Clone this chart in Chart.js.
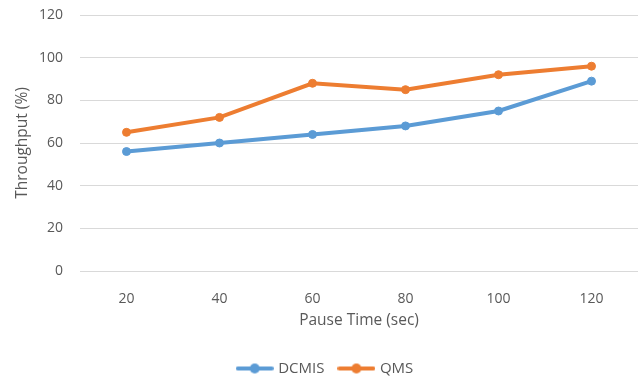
<!DOCTYPE html>
<html>
<head>
<meta charset="utf-8">
<script src="https://cdn.jsdelivr.net/npm/chart.js@4"></script>
<style>
  html, body { margin: 0; padding: 0; background: #fff; }
  #wrap { width: 643px; height: 379px; }
</style>
</head>
<body>
<div id="wrap"><canvas id="chart"></canvas></div>
<script>
const pauseTimes = ['20', '40', '60', '80', '100', '120'];
const dcmis = [56, 60, 64, 68, 75, 89];
const qms = [65, 72, 88, 85, 92, 96];
const seriesNames = ['DCMIS', 'QMS'];
const seriesColors = ['#5b9bd5', '#ed7d31'];

// legend marker: short line with a dot, like the office-style legend
function legendMarker(color) {
    let c = document.createElement('canvas');
    c.width = 38;
    c.height = 12;
    let ctx = c.getContext('2d');
    ctx.strokeStyle = color;
    ctx.lineWidth = 4;
    ctx.lineCap = 'round';
    ctx.beginPath();
    ctx.moveTo(2, 6);
    ctx.lineTo(36, 6);
    ctx.stroke();
    ctx.fillStyle = color;
    ctx.beginPath();
    ctx.arc(19, 6, 5, 0, Math.PI * 2);
    ctx.fill();
    return c;
}

const fontFamily = "'Open Sans', 'Liberation Sans', sans-serif";
const gray = '#595959';

new Chart(document.getElementById('chart'), {
    type: 'line',
    data: {
        labels: pauseTimes,
        datasets: [
            {
                label: seriesNames[0],
                data: dcmis,
                borderColor: seriesColors[0],
                backgroundColor: seriesColors[0],
                borderWidth: 4,
                pointRadius: 4,
                pointBorderWidth: 1,
                pointHoverRadius: 4,
                tension: 0
            },
            {
                label: seriesNames[1],
                data: qms,
                borderColor: seriesColors[1],
                backgroundColor: seriesColors[1],
                borderWidth: 4,
                pointRadius: 4,
                pointBorderWidth: 1,
                pointHoverRadius: 4,
                tension: 0
            }
        ]
    },
    options: {
        responsive: true,
        maintainAspectRatio: false,
        animation: false,
        layout: { padding: { left: 13, right: 4, top: 15, bottom: -7 } },
        plugins: {
            legend: {
                position: 'bottom',
                labels: {
                    color: gray,
                    font: { family: fontFamily, size: 15 },
                    usePointStyle: true,
                    pointStyleWidth: 32,
                    padding: 16,
                    generateLabels: function (chart) {
                        return chart.data.datasets.map((ds, i) => ({
                            text: ds.label,
                            fontColor: gray,
                            pointStyle: legendMarker(ds.borderColor),
                            strokeStyle: ds.borderColor,
                            fillStyle: ds.borderColor,
                            lineWidth: 0,
                            hidden: false,
                            datasetIndex: i
                        }));
                    }
                }
            },
            tooltip: { enabled: false }
        },
        scales: {
            x: {
                offset: true,
                grid: { display: false },
                border: { display: false },
                ticks: { color: gray, font: { family: fontFamily, size: 14 }, padding: 12 },
                title: {
                    display: true,
                    text: 'Pause Time (sec)',
                    color: gray,
                    font: { family: fontFamily, size: 15.5 },
                    padding: { top: 0, bottom: 15 }
                },
                afterFit: function (scale) {
                    scale.height = 74;
                    scale.paddingLeft = 0;
                    scale.paddingRight = 0;
                }
            },
            y: {
                min: 0,
                max: 120,
                ticks: { stepSize: 20, color: gray, font: { family: fontFamily, size: 14 }, padding: 17 },
                grid: { color: '#d9d9d9', lineWidth: 1, drawTicks: false },
                border: { display: false },
                title: {
                    display: true,
                    text: 'Throughput (%)',
                    color: gray,
                    font: { family: fontFamily, size: 15.5 },
                    padding: { top: 0, bottom: 7 }
                },
                afterFit: function (scale) {
                    scale.width = 67;
                    scale.paddingTop = 0;
                    scale.paddingBottom = 0;
                }
            }
        }
    }
});
</script>
</body>
</html>
